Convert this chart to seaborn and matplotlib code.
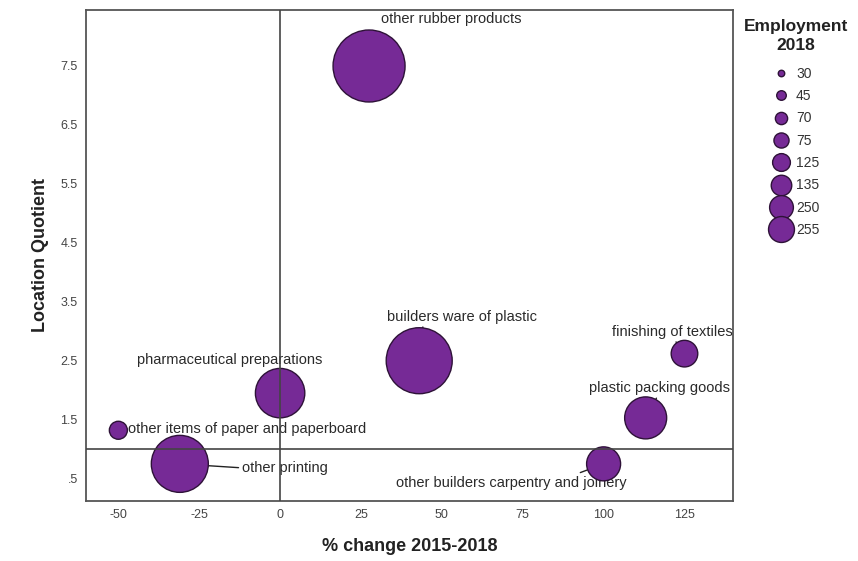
import matplotlib
matplotlib.use("Agg")
import matplotlib.pyplot as plt
import seaborn as sns
import pandas as pd
from matplotlib.lines import Line2D

# ---- data ----
industries = ["other rubber products", "builders ware of plastic",
              "pharmaceutical preparations", "other items of paper and paperboard",
              "other printing", "finishing of textiles", "plastic packing goods",
              "other builders carpentry and joinery"]
pct_change = [27.5, 43, 0, -50, -31, 125, 113, 100]
location_quotient = [7.5, 2.5, 1.95, 1.32, 0.75, 2.62, 1.53, 0.75]
employment = [255, 250, 125, 30, 135, 45, 75, 70]
legend_values = [30, 45, 70, 75, 125, 135, 250, 255]
legend_title = ["Employment", "2018"]
x_ticks = [-50, -25, 0, 25, 50, 75, 100, 125]
y_ticks = [0.5, 1.5, 2.5, 3.5, 4.5, 5.5, 6.5, 7.5]
y_tick_labels = [".5", "1.5", "2.5", "3.5", "4.5", "5.5", "6.5", "7.5"]

# ---- styles ----
radius_px = {30: 9, 45: 13.3, 70: 17, 75: 21, 125: 24.7, 135: 28.5, 250: 33, 255: 36}
sizes = {k: (2 * r * 0.72) ** 2 for k, r in radius_px.items()}
fill = "#762A96"
edge = "#2E1238"
# label offsets in pixels: (dx, dy, ha, leader relpos or None)
label_style = {
    "other rubber products": (82, 47, "center", None),
    "builders ware of plastic": (43, 44, "center", (0.24, 0.0)),
    "pharmaceutical preparations": (-50, 33, "center", None),
    "other items of paper and paperboard": (10, 1, "left", None),
    "other printing": (62, -4, "left", (0.0, 0.5)),
    "finishing of textiles": (-12, 22, "center", (0.51, 0.0)),
    "plastic packing goods": (14, 30, "center", (0.49, 0.0)),
    "other builders carpentry and joinery": (-92, -19, "center", (0.76, 1.0)),
}

df = pd.DataFrame({"industry": industries, "pct": pct_change,
                   "lq": location_quotient, "emp": employment})

sns.set_theme(style="white")
plt.rcParams["font.family"] = ["Liberation Sans", "DejaVu Sans"]

fig = plt.figure(figsize=(8.58, 5.61), dpi=100)
ax = fig.add_axes([86 / 858, 1 - 501 / 561, (733 - 86) / 858, (501 - 10) / 561])

sns.scatterplot(data=df, x="pct", y="lq", size="emp", sizes=sizes,
                color=fill, edgecolor=edge, linewidth=1.0, alpha=1,
                legend=False, ax=ax, zorder=2)

ax.axvline(0, color="#444444", lw=1.2, zorder=3)
ax.axhline(1.0, color="#444444", lw=1.2, zorder=3)

for _, row in df.iterrows():
    dx, dy, ha, relpos = label_style[row["industry"]]
    r_pt = radius_px[row["emp"]] * 0.72
    arrow = None
    if relpos is not None:
        arrow = dict(arrowstyle="-", color="#222222", lw=1.0,
                     shrinkA=0, shrinkB=r_pt, relpos=relpos)
    ax.annotate(row["industry"], xy=(row["pct"], row["lq"]),
                xytext=(dx, dy), textcoords="offset pixels",
                ha=ha, va="center", fontsize=10.5, color="#2a2a2a",
                arrowprops=arrow, zorder=1)

ax.set_xlim(-60, 140)
ax.set_ylim(0.12, 8.45)
ax.set_xticks(x_ticks)
ax.set_xticklabels([str(v) for v in x_ticks])
ax.set_yticks(y_ticks)
ax.set_yticklabels(y_tick_labels)
ax.tick_params(axis="both", length=0, labelsize=9, labelcolor="#444444", pad=6)
for s in ax.spines.values():
    s.set_visible(True)
    s.set_color("#555555")
    s.set_linewidth(1.3)

ax.set_xlabel("% change 2015-2018", fontsize=13, fontweight="bold",
              color="#222222", labelpad=12)
ax.set_ylabel("Location Quotient", fontsize=13, fontweight="bold",
              color="#222222", labelpad=8)

# legend
for line, ypx in zip(legend_title, [27, 45]):
    fig.text(796 / 858, 1 - ypx / 561, line, ha="center", va="center",
             fontsize=12.5, fontweight="bold", color="#222222")
handles = [Line2D([], [], linestyle="none", marker="o",
                  markersize=2 * radius_px[v] * 0.36 * 0.72,
                  markerfacecolor=fill, markeredgecolor=edge, markeredgewidth=1.0)
           for v in legend_values]
leg = fig.legend(handles, [str(v) for v in legend_values],
                 loc="upper left", bbox_to_anchor=(760 / 858, 1 - 57 / 561),
                 frameon=False, fontsize=10, labelspacing=0.6,
                 handletextpad=0.3, handlelength=1.6, borderpad=0.2)
for t in leg.get_texts():
    t.set_color("#333333")

fig.savefig("out.png", dpi=100)
